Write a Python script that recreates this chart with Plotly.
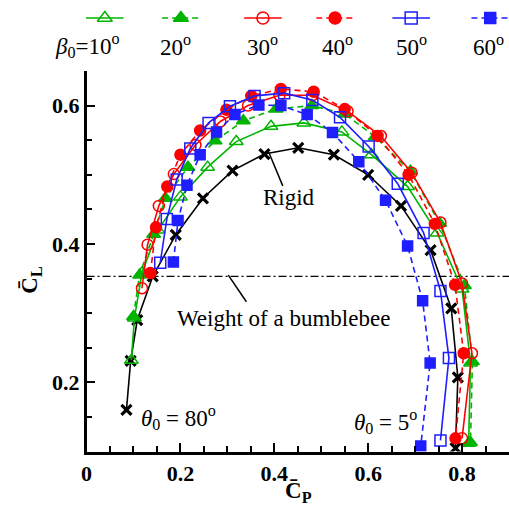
import plotly.graph_objects as go

# ---------------- data ----------------
rigid_cp = [0.085, 0.094, 0.108, 0.141, 0.190, 0.248, 0.311, 0.379, 0.451, 0.527, 0.600, 0.670, 0.733, 0.777, 0.791, 0.786]
rigid_cl = [0.160, 0.231, 0.290, 0.353, 0.413, 0.466, 0.506, 0.530, 0.539, 0.529, 0.500, 0.455, 0.391, 0.307, 0.207, 0.105]

b10_cp = [0.0955, 0.102, 0.118, 0.152, 0.200, 0.258, 0.319, 0.393, 0.463, 0.544, 0.607, 0.684, 0.747, 0.800, 0.818, 0.814]
b10_cl = [0.232, 0.293, 0.358, 0.420, 0.468, 0.511, 0.548, 0.570, 0.575, 0.562, 0.529, 0.483, 0.416, 0.335, 0.228, 0.112]

b20_cp = [0.100, 0.113, 0.143, 0.168, 0.216, 0.274, 0.334, 0.404, 0.480, 0.550, 0.615, 0.690, 0.752, 0.805, 0.822, 0.818]
b20_cl = [0.295, 0.355, 0.414, 0.466, 0.511, 0.549, 0.578, 0.595, 0.600, 0.588, 0.555, 0.505, 0.430, 0.340, 0.230, 0.113]

b30_cp = [0.118, 0.130, 0.154, 0.186, 0.232, 0.285, 0.344, 0.411, 0.481, 0.556, 0.627, 0.6925, 0.754, 0.800, 0.821, 0.800]
b30_cl = [0.336, 0.399, 0.455, 0.501, 0.543, 0.577, 0.600, 0.615, 0.615, 0.592, 0.556, 0.503, 0.431, 0.343, 0.242, 0.119]

b40_cp = [0.136, 0.148, 0.172, 0.200, 0.242, 0.298, 0.351, 0.414, 0.484, 0.550, 0.620, 0.686, 0.742, 0.785, 0.8035, 0.786]
b40_cl = [0.358, 0.424, 0.483, 0.529, 0.564, 0.594, 0.614, 0.624, 0.620, 0.595, 0.556, 0.500, 0.429, 0.341, 0.242, 0.119]

b50_cp = [0.157, 0.171, 0.192, 0.221, 0.260, 0.3055, 0.358, 0.421, 0.481, 0.540, 0.601, 0.663, 0.718, 0.754, 0.772, 0.754]
b50_cl = [0.373, 0.436, 0.493, 0.538, 0.575, 0.599, 0.614, 0.618, 0.608, 0.583, 0.541, 0.487, 0.416, 0.332, 0.235, 0.116]

b60_cp = [0.185, 0.195, 0.214, 0.242, 0.277, 0.316, 0.367, 0.414, 0.470, 0.524, 0.580, 0.637, 0.684, 0.716, 0.732, 0.712]
b60_cl = [0.374, 0.434, 0.485, 0.529, 0.562, 0.587, 0.601, 0.600, 0.587, 0.561, 0.519, 0.463, 0.397, 0.318, 0.228, 0.108]

bumblebee_weight = 0.353
legend_labels = ["<i>β</i><sub>0</sub>=10<sup>o</sup>", "20<sup>o</sup>", "30<sup>o</sup>",
                 "40<sup>o</sup>", "50<sup>o</sup>", "60<sup>o</sup>"]
x_ticks = [0, 0.2, 0.4, 0.6, 0.8]
x_ticklabels = ["0", "0.2", "0.4", "0.6", "0.8"]
y_ticks = [0.2, 0.4, 0.6]
y_ticklabels = ["0.2", "0.4", "0.6"]

# ---------------- styles ----------------
GREEN = "#00B400"
RED = "#FF0000"
BLUE = "#1E1EFF"
SERIF = "Times New Roman, Liberation Serif, Tinos, serif"
DASH = "6px,4px"
W, H = 509, 508

series = [
    (b10_cp, b10_cl, GREEN, "solid", "triangle-up-open", 12),
    (b20_cp, b20_cl, GREEN, DASH, "triangle-up", 12),
    (b30_cp, b30_cl, RED, "solid", "circle-open", 11),
    (b40_cp, b40_cl, RED, DASH, "circle", 11),
    (b50_cp, b50_cl, BLUE, "solid", "square-open", 11),
    (b60_cp, b60_cl, BLUE, DASH, "square", 10),
]

fig = go.Figure()

# weight of a bumblebee line
fig.add_trace(go.Scatter(x=[0, 0.9], y=[bumblebee_weight, bumblebee_weight], mode="lines",
                         line=dict(color="black", width=1.2, dash="8px,3px,2px,3px"), showlegend=False))

# rigid
fig.add_trace(go.Scatter(x=rigid_cp, y=rigid_cl, mode="lines+markers",
                         line=dict(color="black", width=1.6),
                         marker=dict(symbol="x-thin", size=10, line=dict(color="black", width=3.2)),
                         showlegend=False))

for cp, cl, col, dash, sym, sz in series:
    fig.add_trace(go.Scatter(x=cp, y=cl, mode="lines+markers",
                             line=dict(color=col, width=1.6, dash=dash),
                             marker=dict(symbol=sym, size=sz, color=col,
                                         line=dict(color=col, width=1.5)),
                             showlegend=False))

# ---------------- manual legend (independent pixel axes) ----------------
leg_sym_x = [100, 177, 260, 333, 410, 490]
leg_txt_x = [82, 172, 260, 335, 410, 488]
for (cp, cl, col, dash, sym, sz), sx in zip(series, leg_sym_x):
    fig.add_trace(go.Scatter(x=[sx - 19, sx + 19], y=[18, 18], mode="lines",
                             line=dict(color=col, width=1.6, dash=dash),
                             xaxis="x2", yaxis="y2", showlegend=False))
    fig.add_trace(go.Scatter(x=[sx], y=[18], mode="markers",
                             marker=dict(symbol=sym, size=sz + 1, color=col,
                                         line=dict(color=col, width=1.5)),
                             xaxis="x2", yaxis="y2", showlegend=False))

annots = []
for lab, tx in zip(legend_labels, leg_txt_x):
    annots.append(dict(x=tx, y=45, xref="x2", yref="y2", text=lab, showarrow=False,
                       font=dict(family=SERIF, size=23, color="black"), xanchor="center", yanchor="middle"))

# chart annotations
annots += [
    dict(x=286, y=197, xref="x2", yref="y2", text="Rigid", showarrow=False,
         font=dict(family=SERIF, size=23, color="black")),
    dict(x=171, y=318, xref="x2", yref="y2", text="Weight of a bumblebee", showarrow=False,
         xanchor="left", font=dict(family=SERIF, size=23, color="black")),
    dict(x=135, y=417, xref="x2", yref="y2", text="<i>θ</i><sub>0</sub> = 80<sup>o</sup>", showarrow=False,
         xanchor="left", font=dict(family=SERIF, size=23, color="black")),
    dict(x=350, y=421, xref="x2", yref="y2", text="<i>θ</i><sub>0</sub> = 5<sup>o</sup>", showarrow=False,
         xanchor="left", font=dict(family=SERIF, size=23, color="black")),
    dict(x=296, y=492, xref="x2", yref="y2", text="<b>C\u0304<sub>P</sub></b>", showarrow=False,
         font=dict(family=SERIF, size=23, color="black")),
    dict(x=25, y=280, xref="x2", yref="y2", text="<b>C\u0304<sub>L</sub></b>", showarrow=False,
         textangle=-90, font=dict(family=SERIF, size=23, color="black")),
]

shapes = [
    dict(type="line", xref="x", yref="y", x0=0.388, y0=0.533, x1=0.418, y1=0.484,
         line=dict(color="black", width=1.5)),
    dict(type="line", xref="x", yref="y", x0=0.302, y0=0.355, x1=0.3405, y1=0.3165,
         line=dict(color="black", width=1.5)),
]

tickfont = dict(family=SERIF, size=22, color="black", weight="bold")
fig.update_layout(
    width=W, height=H,
    margin=dict(l=0, r=0, t=0, b=0),
    paper_bgcolor="white", plot_bgcolor="rgba(0,0,0,0)",
    font=dict(family=SERIF),
    showlegend=False,
    xaxis=dict(domain=[81.5 / W, 1], range=[0, 0.9], tickvals=x_ticks, ticktext=x_ticklabels,
               ticks="inside", ticklen=9, tickwidth=2, tickcolor="black",
               minor=dict(dtick=0.05, tick0=0, ticks="inside", ticklen=6, tickwidth=1.5, tickcolor="black"),
               showline=True, linecolor="black", linewidth=2.5, showgrid=False, zeroline=False,
               tickfont=tickfont, anchor="y"),
    yaxis=dict(domain=[(H - 451.5) / H, (H - 71) / H], range=[0.1, 0.65], tickvals=y_ticks,
               ticktext=y_ticklabels,
               ticks="inside", ticklen=9, tickwidth=2, tickcolor="black",
               minor=dict(dtick=0.05, tick0=0.1, ticks="inside", ticklen=6, tickwidth=1.5, tickcolor="black"),
               showline=True, linecolor="black", linewidth=2.5, showgrid=False, zeroline=False,
               tickfont=tickfont, anchor="x"),
    xaxis2=dict(domain=[0, 1], range=[0, W], visible=False, anchor="y2", fixedrange=True),
    yaxis2=dict(domain=[0, 1], range=[H, 0], visible=False, anchor="x2", fixedrange=True),
    annotations=annots,
    shapes=shapes,
)

fig.write_html("out.html")
